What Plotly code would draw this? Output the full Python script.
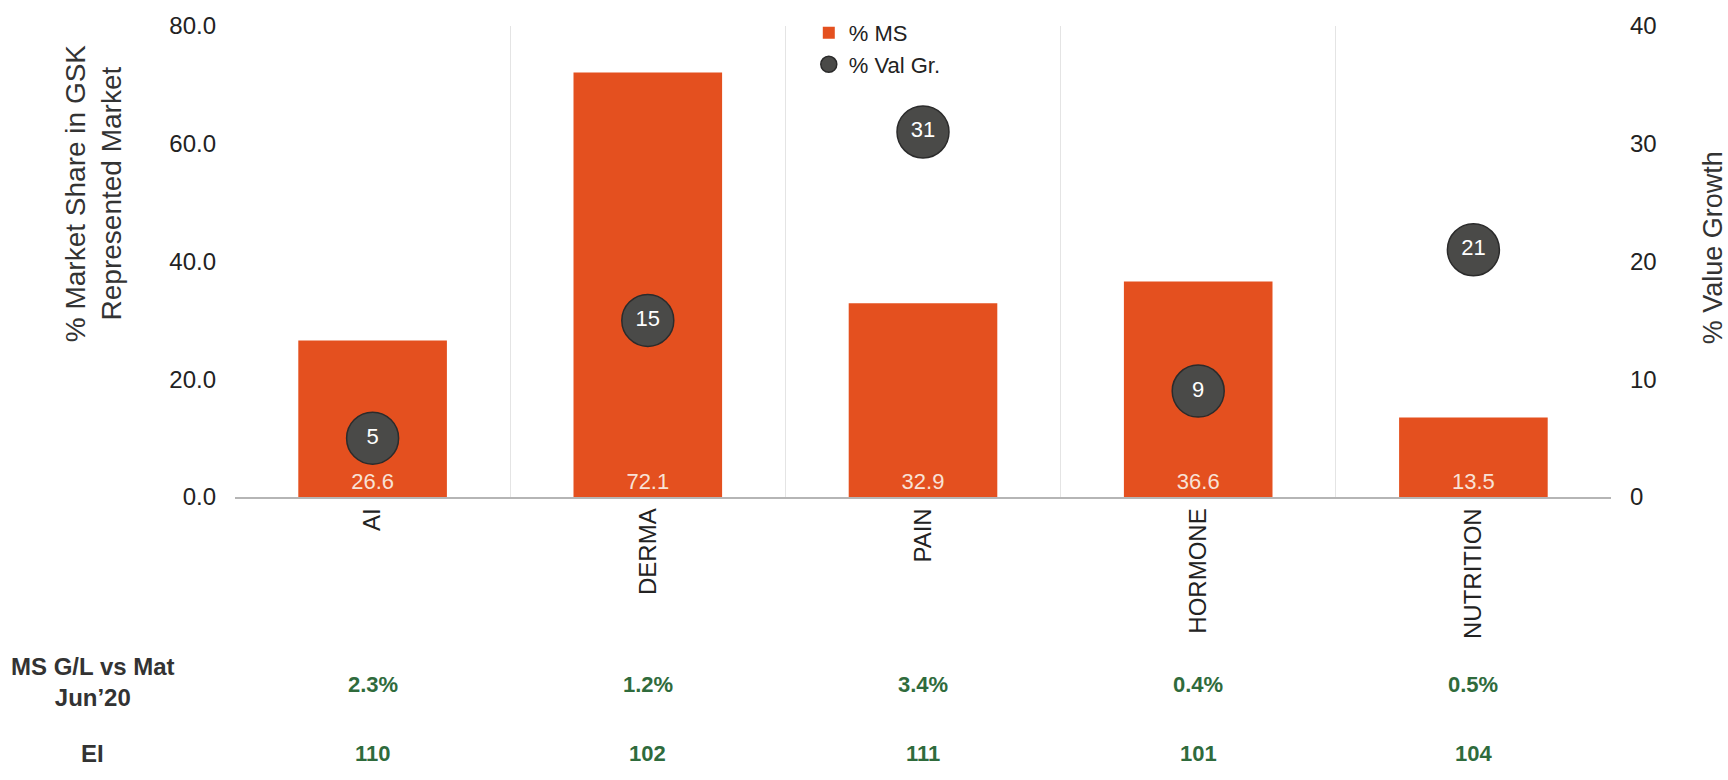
import plotly.graph_objects as go

# Therapy areas and their metrics
categories = ["AI", "DERMA", "PAIN", "HORMONE", "NUTRITION"]
market_share = [26.6, 72.1, 32.9, 36.6, 13.5]      # % MS (left axis)
value_growth = [5, 15, 31, 9, 21]                  # % Val Gr. (right axis)
ms_gain_loss = ["2.3%", "1.2%", "3.4%", "0.4%", "0.5%"]
ei_values = ["110", "102", "111", "101", "104"]
row_labels = ["MS G/L vs Mat<br>Jun\u201920", "EI"]

FONT = "Arial, Liberation Sans, sans-serif"
BAR_COLOR = "#E4501F"
DOT_COLOR = "#4a4a48"
GREEN = "#2f6b3c"

fig = go.Figure()

fig.add_trace(go.Bar(
    x=categories, y=market_share, name="% MS",
    marker=dict(color=BAR_COLOR, line=dict(width=0)),
    width=0.54,
    texttemplate="%{y:.1f}", textposition="inside", insidetextanchor="start",
    textfont=dict(color="#f8e2d6", size=22, family=FONT),
    cliponaxis=False,
))

fig.add_trace(go.Scatter(
    x=categories, y=value_growth, name="% Val Gr.", yaxis="y2",
    mode="markers",
    marker=dict(size=52, color=DOT_COLOR, line=dict(color="#2b2b2b", width=1.5)),
))

fig.add_trace(go.Scatter(
    x=categories, y=value_growth, yaxis="y2", mode="text",
    text=[str(v) for v in value_growth], textposition="middle center",
    textfont=dict(color="white", size=22, family=FONT),
    showlegend=False, hoverinfo="skip",
))

annotations = []
# Table rows beneath the chart
ROW_Y = [-0.398, -0.545]
for i, cat in enumerate(categories):
    annotations.append(dict(
        x=cat, xref="x", y=ROW_Y[0], yref="paper", text="<b>%s</b>" % ms_gain_loss[i],
        showarrow=False, font=dict(size=22, color=GREEN, family=FONT),
        xanchor="center", yanchor="middle"))
    annotations.append(dict(
        x=cat, xref="x", y=ROW_Y[1], yref="paper", text="<b>%s</b>" % ei_values[i],
        showarrow=False, font=dict(size=22, color=GREEN, family=FONT),
        xanchor="center", yanchor="middle"))

for label, ypos in zip(row_labels, [-0.392, ROW_Y[1]]):
    annotations.append(dict(
        x=-0.1032, xref="paper", y=ypos, yref="paper", text="<b>%s</b>" % label,
        showarrow=False, font=dict(size=24, color="#333333", family=FONT),
        xanchor="center", yanchor="middle", align="center"))

# Axis titles
annotations.append(dict(
    x=-0.1032, xref="paper", y=0.645, yref="paper",
    text="% Market Share in GSK<br>Represented Market", textangle=-90,
    showarrow=False, font=dict(size=28, color="#333333", family=FONT),
    xanchor="center", yanchor="middle", align="center"))
annotations.append(dict(
    x=1.0741, xref="paper", y=0.53, yref="paper",
    text="% Value Growth", textangle=-90,
    showarrow=False, font=dict(size=27, color="#333333", family=FONT),
    xanchor="center", yanchor="middle"))

fig.update_layout(
    width=1728, height=780,
    margin=dict(l=235, r=117, t=23, b=283),
    paper_bgcolor="white", plot_bgcolor="white",
    font=dict(family=FONT, color="#222222"),
    showlegend=True,
    legend=dict(x=0.417, y=1.03, xanchor="left", yanchor="top",
                font=dict(size=22, color="#222222", family=FONT),
                bgcolor="rgba(0,0,0,0)", tracegroupgap=0, itemwidth=30),
    xaxis=dict(
        type="category", tickangle=-90,
        tickfont=dict(size=24, color="#222222", family=FONT),
        showgrid=True, gridcolor="#e4e4e4", gridwidth=1, tickson="boundaries",
        showline=True, linecolor="#b5b5b5", linewidth=1.5,
        ticks="", range=[-0.5, 4.5],
    ),
    yaxis=dict(
        range=[0, 80], dtick=20, tickformat=".1f",
        tickfont=dict(size=24, color="#222222", family=FONT),
        showgrid=False, zeroline=False, showline=False, ticks="",
        ticklabelstandoff=18,
    ),
    yaxis2=dict(
        range=[0, 40], dtick=10, overlaying="y", side="right",
        tickfont=dict(size=24, color="#222222", family=FONT),
        showgrid=False, zeroline=False, showline=False, ticks="",
        ticklabelstandoff=18,
    ),
    annotations=annotations,
)

fig.write_html("out.html")
